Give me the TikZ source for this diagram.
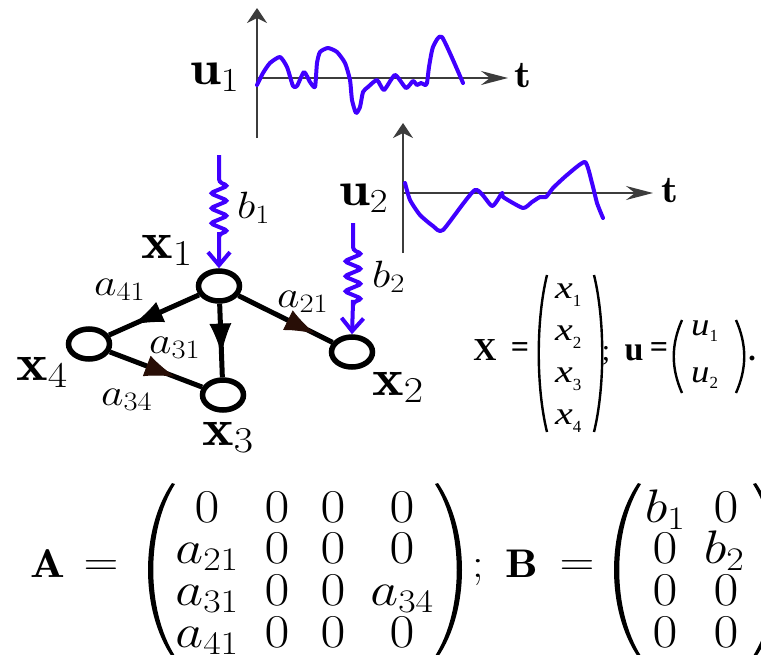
\RequirePackage{fix-cm}
\documentclass[tikz,border=0pt]{standalone}
\usepackage{amsmath}
\usepackage{fontspec}
\newfontfamily\tnr{Liberation Serif}
\usetikzlibrary{arrows.meta,decorations.pathmorphing,shapes.geometric,calc}
\definecolor{sigblue}{RGB}{64,0,255}
\definecolor{axgray}{RGB}{60,60,60}
\definecolor{arrbrown}{RGB}{40,14,6}
\newcommand{\wide}[1]{\scalebox{1.15}[1]{#1}}
\newcommand{\fsz}[1]{\fontsize{#1}{#1}\selectfont}
\newcommand{\tx}[2]{\scalebox{1.25}[1]{\tnr\itshape\fsz{32}#1}\raisebox{-8pt}{\tnr\fsz{17}#2}}
\newcommand{\tu}[2]{\scalebox{1.15}[1]{\tnr\itshape\fsz{32}#1}\raisebox{-6pt}{\tnr\fsz{17}#2}}
\tikzset{
  vtx/.style={ellipse, draw, line width=5.5pt, minimum width=41pt, minimum height=30pt, inner sep=0pt},
  edge/.style={line width=5pt},
  tipb/.style={line width=1pt, -{Latex[length=30pt,width=22pt]}},
  tipr/.style={line width=1pt, -{Latex[length=30pt,width=22pt,color=arrbrown]}},
  lbl/.style={inner sep=0pt, anchor=base west},
  ent/.style={inner sep=0pt, anchor=base},
  sig/.style={draw=sigblue, line width=4pt, line join=round, line cap=round},
  axv/.style={draw=axgray, line width=1.6pt, -{Stealth[length=15pt,width=20pt,inset=5pt]}},
  axh/.style={draw=axgray, line width=1.6pt, -{Stealth[length=27pt,width=14pt,inset=9pt]}},
  inp/.style={draw=sigblue, line width=4pt, -{Straight Barb[length=13pt,width=22pt]},
    decoration={zigzag, segment length=15pt, amplitude=9pt}},
  pline/.style={line width=2.4pt}
}
\begin{document}
\begin{tikzpicture}[x=1pt,y=-1pt]
\useasboundingbox (0,0) rectangle (761,654);

% ---------- signal u1 ----------
\coordinate (o1) at (257,78);
\coordinate (v1b) at (257,138);
\coordinate (v1t) at (257,8);
\coordinate (h1e) at (508,78);
\draw[axv] (v1b) -- (v1t);
\draw[axh] (o1) -- (h1e);
\draw[sig] plot[smooth, tension=0.35] coordinates {(257,85) (263,73) (270,63) (280,57) (287,67) (293,86) (297,86) (304,72) (310,82) (315,87) (317,63) (320,52) (328,48) (337,52) (345,63) (350,80) (352,100) (356,113) (360,107) (363,92) (368,87) (377,80) (384,90) (395,75) (406,88) (413,81) (417,85) (421,83) (425,85) (427,83) (429,67) (433,47) (442,37) (463,83)};
\node[lbl] (u1) at (190,84) {\wide{\fsz{48}$\mathbf{u}_1$}};
\node[lbl] (t1) at (514,87) {\wide{\fsz{38}$\mathbf{t}$}};

% ---------- signal u2 ----------
\coordinate (o2) at (403,193);
\coordinate (v2b) at (403,253);
\coordinate (v2t) at (403,123);
\coordinate (h2e) at (653,193);
\draw[axv] (v2b) -- (v2t);
\draw[axh] (o2) -- (h2e);
\draw[sig] plot[smooth, tension=0.35] coordinates {(405,183) (410,200) (420,215) (433,226) (443,230) (475,190) (492,206) (502,193) (503,197) (523,208) (532,202) (540,197) (546,197) (553,188) (567,175) (585,162) (592,183) (597,203) (603,218)};
\node[lbl] (u2) at (339,205) {\wide{\fsz{48}$\mathbf{u}_2$}};
\node[lbl] (t2) at (661,202) {\wide{\fsz{38}$\mathbf{t}$}};

% ---------- graph ----------
\node[vtx] (x1) at (219,286) {};
\node[vtx] (x4) at (89,344) {};
\node[vtx] (x3) at (223,395) {};
\node[vtx] (x2) at (352,352) {};

\draw[edge] (x1) -- (x4);
\draw[edge] (x1) -- (x3);
\draw[edge] (x1) -- (x2);
\draw[edge] (x4) -- (x3);

\coordinate (s14) at ($(x1)!0.30!(x4)$);
\coordinate (m14) at ($(x1)!0.66!(x4)$);
\coordinate (s13) at ($(x1)!0.20!(x3)$);
\coordinate (m13) at ($(x1)!0.62!(x3)$);
\coordinate (s12) at ($(x1)!0.35!(x2)$);
\coordinate (m12) at ($(x1)!0.72!(x2)$);
\coordinate (s43) at ($(x4)!0.30!(x3)$);
\coordinate (m43) at ($(x4)!0.64!(x3)$);
\draw[tipb] (s14) -- (m14);
\draw[tipb] (s13) -- (m13);
\draw[tipr] (s12) -- (m12);
\draw[tipr] (s43) -- (m43);

\coordinate (b1top) at (219,155);
\coordinate (b2top) at (353,223);
\draw[inp, rounded corners=3pt] (b1top) -- ++(0,27) decorate {-- ++(0,53)} -- (x1.north);
\draw[inp, rounded corners=3pt] (b2top) -- ++(0,27) decorate {-- ++(0,53)} -- (x2.north);

\node[lbl] (lx1) at (141,258) {\wide{\fsz{52}$\mathbf{x}_1$}};
\node[lbl] (lx4) at (16,380) {\wide{\fsz{52}$\mathbf{x}_4$}};
\node[lbl] (lx3) at (202,445) {\wide{\fsz{52}$\mathbf{x}_3$}};
\node[lbl] (lx2) at (372,395) {\wide{\fsz{52}$\mathbf{x}_2$}};

\node[lbl] (la41) at (94,295) {\wide{\fsz{38}$a_{41}$}};
\node[lbl] (la31) at (149,353) {\wide{\fsz{38}$a_{31}$}};
\node[lbl] (la21) at (277,307) {\wide{\fsz{38}$a_{21}$}};
\node[lbl] (la34) at (101,405) {\wide{\fsz{38}$a_{34}$}};
\node[lbl] (lb1) at (237,218) {\wide{\fsz{38}$b_{1}$}};
\node[lbl] (lb2) at (372,287) {\wide{\fsz{38}$b_{2}$}};

% ---------- vectors ----------
\node[ent] (Xv) at (485,360) {\tnr\bfseries\fsz{32}X};
\node[inner sep=0pt] (eqX) at (520,350) {\tnr\bfseries\fsz{32}=};
\draw[pline] (547,275) .. controls (536,320) and (536,387) .. (547,432);
\draw[pline] (594,275) .. controls (605,320) and (605,387) .. (594,432);
\node[lbl] (vx1) at (555,298) {\tx{x}{1}};
\node[lbl] (vx2) at (555,340) {\tx{x}{2}};
\node[lbl] (vx3) at (555,382) {\tx{x}{3}};
\node[lbl] (vx4) at (555,424) {\tx{x}{4}};
\node[ent] (sc1) at (606,360) {\tnr\fsz{30};};
\node[ent] (uv) at (634,360) {\tnr\bfseries\fsz{34}u};
\node[inner sep=0pt] (equ) at (659,350) {\tnr\bfseries\fsz{32}=};
\draw[pline] (682,320) .. controls (671,345) and (671,368) .. (682,393);
\draw[pline] (736,320) .. controls (747,345) and (747,368) .. (736,393);
\node[lbl] (vu1) at (691,335) {\tu{u}{1}};
\node[lbl] (vu2) at (691,382) {\tu{u}{2}};
\node[ent] (dot) at (752,360) {\tnr\bfseries\fsz{30}.};

% ---------- matrices ----------
\node[ent] (Am) at (48,577) {\wide{\fsz{40}$\mathbf{A}$}};
\node[inner sep=0pt] (eqA) at (101,568) {\wide{\fsz{42}$=$}};
\fill (172,483) .. controls (140,530) and (140,610) .. (172,657) -- (175,656) .. controls (146,610) and (146,530) .. (175,484) -- cycle;
\node[ent] (a11) at (207,522) {\wide{\fsz{47}$0$}};
\node[ent] (a12) at (277,522) {\wide{\fsz{47}$0$}};
\node[ent] (a13) at (333,522) {\wide{\fsz{47}$0$}};
\node[ent] (a14) at (402,522) {\wide{\fsz{47}$0$}};
\node[ent] (a21) at (207,563.7) {\wide{\fsz{47}$a_{21}$}};
\node[ent] (a22) at (277,563.7) {\wide{\fsz{47}$0$}};
\node[ent] (a23) at (333,563.7) {\wide{\fsz{47}$0$}};
\node[ent] (a24) at (402,563.7) {\wide{\fsz{47}$0$}};
\node[ent] (a31) at (207,605.3) {\wide{\fsz{47}$a_{31}$}};
\node[ent] (a32) at (277,605.3) {\wide{\fsz{47}$0$}};
\node[ent] (a33) at (333,605.3) {\wide{\fsz{47}$0$}};
\node[ent] (a34) at (402,605.3) {\wide{\fsz{47}$a_{34}$}};
\node[ent] (a41) at (207,647) {\wide{\fsz{47}$a_{41}$}};
\node[ent] (a42) at (277,647) {\wide{\fsz{47}$0$}};
\node[ent] (a43) at (333,647) {\wide{\fsz{47}$0$}};
\node[ent] (a44) at (402,647) {\wide{\fsz{47}$0$}};
\fill (438,483) .. controls (470,530) and (470,610) .. (438,657) -- (435,656) .. controls (464,610) and (464,530) .. (435,484) -- cycle;
\node[ent] (scA) at (478,577) {\wide{\fsz{42}$;$}};
\node[ent] (Bm) at (522,577) {\wide{\fsz{40}$\mathbf{B}$}};
\node[inner sep=0pt] (eqB) at (577,568) {\wide{\fsz{42}$=$}};
\fill (638,483) .. controls (606,530) and (606,610) .. (638,657) -- (641,656) .. controls (612,610) and (612,530) .. (641,484) -- cycle;
\node[ent] (b11) at (665,522) {\wide{\fsz{47}$b_1$}};
\node[ent] (b12) at (726,522) {\wide{\fsz{47}$0$}};
\node[ent] (b21) at (665,563.7) {\wide{\fsz{47}$0$}};
\node[ent] (b22) at (724,563.7) {\wide{\fsz{47}$b_2$}};
\node[ent] (b31) at (665,605.3) {\wide{\fsz{47}$0$}};
\node[ent] (b32) at (726,605.3) {\wide{\fsz{47}$0$}};
\node[ent] (b41) at (665,647) {\wide{\fsz{47}$0$}};
\node[ent] (b42) at (726,647) {\wide{\fsz{47}$0$}};
\fill (756,483) .. controls (788,530) and (788,610) .. (756,657) -- (753,656) .. controls (782,610) and (782,530) .. (753,484) -- cycle;
\end{tikzpicture}
\end{document}
